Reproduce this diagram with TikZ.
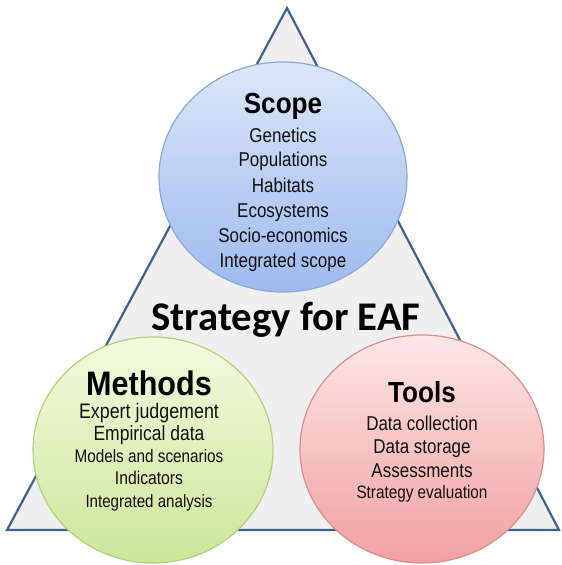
\documentclass[tikz,border=0pt]{standalone}
\usepackage{fontspec}
\setmainfont{Liberation Sans}
\newfontfamily\bodyfont[FakeStretch=0.85]{Liberation Sans}
\newfontfamily\headfont[FakeStretch=0.9]{Liberation Sans}
\newfontfamily\calibrifont{Carlito}
\newcommand\fsz[1]{\fontsize{#1}{#1}\selectfont}
\definecolor{trifill}{HTML}{EFEFEF}
\definecolor{triline}{HTML}{3E6296}
\definecolor{scopetop}{HTML}{DCE6F8}
\definecolor{scopebot}{HTML}{9DBAEE}
\definecolor{scopeline}{HTML}{8AA8DC}
\definecolor{methtop}{HTML}{F3FADF}
\definecolor{methbot}{HTML}{CBE69A}
\definecolor{methline}{HTML}{B0D27C}
\definecolor{tooltop}{HTML}{FCE6E6}
\definecolor{toolbot}{HTML}{F2A0A0}
\definecolor{toolline}{HTML}{DC8E8E}
\definecolor{txt}{HTML}{111111}
\begin{document}
\begin{tikzpicture}[x=1pt,y=-1pt,
  tri/.style={fill=trifill,draw=triline,line width=2.2pt,line join=miter},
  bubble/.style={line width=1.2pt},
  head/.style={anchor=base,inner sep=0pt,text=black,font=\headfont\bfseries\fsz{#1}},
  item/.style={anchor=base,inner sep=0pt,text=txt,font=\bodyfont\fsz{#1}}]
\useasboundingbox (0,0) rectangle (562,565);
% triangle
\coordinate (apex) at (287,8);
\coordinate (bl) at (7,530);
\coordinate (br) at (559,530);
\draw[tri] (apex) -- (br) -- (bl) -- cycle;
% circles
\path[bubble,top color=scopetop,bottom color=scopebot,draw=scopeline]
  (283,177) ellipse [x radius=124,y radius=115];
\path[bubble,top color=methtop,bottom color=methbot,draw=methline]
  (153,450) ellipse [x radius=120,y radius=113];
\path[bubble,top color=tooltop,bottom color=toolbot,draw=toolline]
  (422,449) ellipse [x radius=122,y radius=114];
% central title
\node[anchor=base,inner sep=0pt,font=\calibrifont\bfseries\fsz{40.7}] (title) at (286,330) {Strategy for EAF};
% Scope
\node[head=29] (s0) at (283,113) {Scope};
\node[item=20] (s1) at (283,142) {Genetics};
\node[item=20] (s2) at (283,166) {Populations};
\node[item=20] (s3) at (283,192) {Habitats};
\node[item=20] (s4) at (283,217) {Ecosystems};
\node[item=20] (s5) at (283,242) {Socio-economics};
\node[item=20] (s6) at (283,267) {Integrated scope};
% Methods
\node[head=34] (m0) at (149,395) {Methods};
\node[item=21] (m1) at (149,418) {Expert judgement};
\node[item=20.6] (m2) at (149,440) {Empirical data};
\node[item=18] (m3) at (149,462) {Models and scenarios};
\node[item=18.5] (m4) at (149,484) {Indicators};
\node[item=17.8] (m5) at (149,507) {Integrated analysis};
% Tools
\node[head=29] (t0) at (422,402) {Tools};
\node[item=20] (t1) at (422,430) {Data collection};
\node[item=20] (t2) at (422,453) {Data storage};
\node[item=20] (t3) at (422,477) {Assessments};
\node[item=18] (t4) at (422,498) {Strategy evaluation};
\end{tikzpicture}
\end{document}
